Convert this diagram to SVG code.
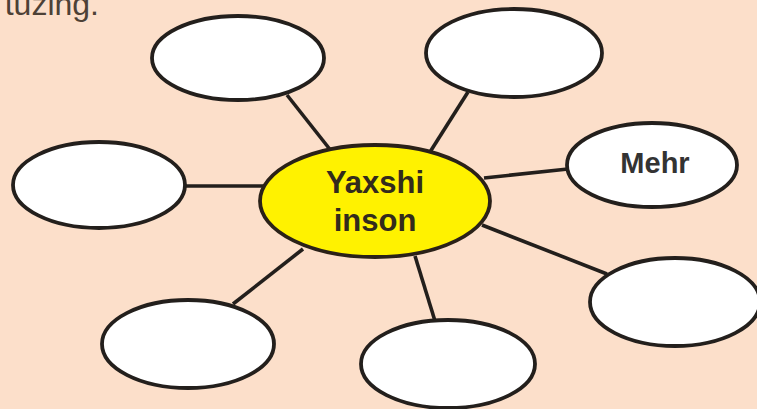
<svg xmlns="http://www.w3.org/2000/svg" width="757" height="409" viewBox="0 0 757 409">
<style>
.bg{fill:#fcdfca}
.node{fill:#ffffff;stroke:#231f1c;stroke-width:3.8}
.hub{fill:#fff200;stroke:#2a2118;stroke-width:3.8}
.edge{stroke:#231f1c;stroke-width:3.6;fill:none}
.lbl{font-family:"Liberation Sans",Arial,sans-serif;font-weight:bold;text-anchor:middle;fill:#332b1c}
.top{font-family:"Liberation Sans",Arial,sans-serif;fill:#4d4136;text-anchor:end}
</style>
<rect class="bg" x="0" y="0" width="757" height="409"/>
<text class="top" x="99" y="15" font-size="32">tuzing.</text>
<g id="connectors">
<line class="edge" x1="287" y1="95" x2="332" y2="152"/>
<line class="edge" x1="468" y1="92" x2="430" y2="152"/>
<line class="edge" x1="484" y1="178" x2="568" y2="169"/>
<line class="edge" x1="184" y1="186" x2="264" y2="186"/>
<line class="edge" x1="482" y1="225" x2="607" y2="274"/>
<line class="edge" x1="415" y1="256" x2="435" y2="321"/>
<line class="edge" x1="303" y1="249" x2="233" y2="304"/>
</g>
<g id="node-topleft"><ellipse class="node" cx="238" cy="58" rx="86" ry="42"/></g>
<g id="node-topright"><ellipse class="node" cx="514" cy="53" rx="88" ry="44"/></g>
<g id="node-left"><ellipse class="node" cx="99" cy="185" rx="86" ry="43"/></g>
<g id="node-mehr"><ellipse class="node" cx="652" cy="165" rx="85" ry="42"/><text class="lbl" x="655" y="173" font-size="29" style="fill:#333333">Mehr</text></g>
<g id="node-rightlow"><ellipse class="node" cx="675" cy="302" rx="85" ry="44"/></g>
<g id="node-bottom"><ellipse class="node" cx="448" cy="364" rx="87" ry="44"/></g>
<g id="node-bottomleft"><ellipse class="node" cx="188" cy="344" rx="86" ry="44"/></g>
<g id="node-center"><ellipse class="hub" cx="375" cy="201" rx="115" ry="56"/><text class="lbl" x="375" y="193" font-size="31">Yaxshi</text><text class="lbl" x="375" y="231" font-size="31">inson</text></g>
</svg>
